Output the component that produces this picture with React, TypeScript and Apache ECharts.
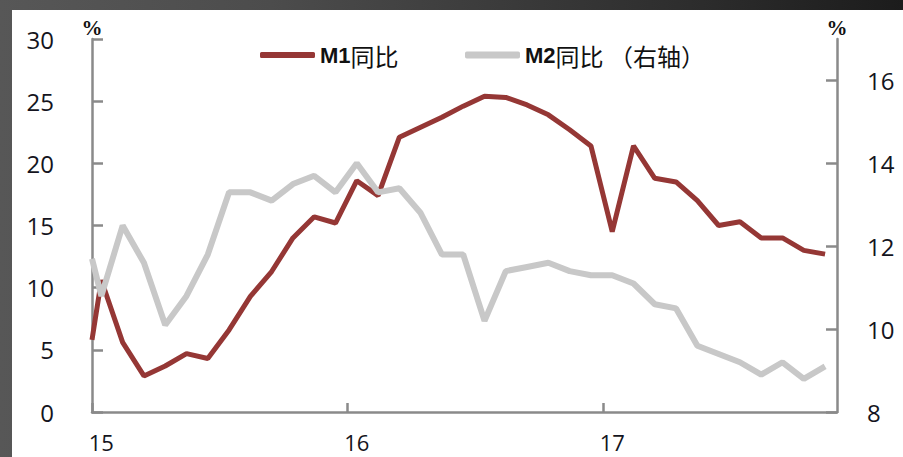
import { useEffect, useRef } from "react";
import * as echarts from "echarts";

// Monthly data, Jan 2015 – Nov 2017
const months = [
  "2015-01", "2015-02", "2015-03", "2015-04", "2015-05", "2015-06",
  "2015-07", "2015-08", "2015-09", "2015-10", "2015-11", "2015-12",
  "2016-01", "2016-02", "2016-03", "2016-04", "2016-05", "2016-06",
  "2016-07", "2016-08", "2016-09", "2016-10", "2016-11", "2016-12",
  "2017-01", "2017-02", "2017-03", "2017-04", "2017-05", "2017-06",
  "2017-07", "2017-08", "2017-09", "2017-10", "2017-11",
];
const m1 = [
  10.6, 5.6, 2.9, 3.7, 4.7, 4.3, 6.6, 9.3, 11.3, 14.0, 15.7, 15.2,
  18.6, 17.4, 22.1, 22.9, 23.7, 24.6, 25.4, 25.3, 24.7, 23.9, 22.7, 21.4,
  14.5, 21.4, 18.8, 18.5, 17.0, 15.0, 15.3, 14.0, 14.0, 13.0, 12.7,
];
const m2 = [
  10.8, 12.5, 11.6, 10.1, 10.8, 11.8, 13.3, 13.3, 13.1, 13.5, 13.7, 13.3,
  14.0, 13.3, 13.4, 12.8, 11.8, 11.8, 10.2, 11.4, 11.5, 11.6, 11.4, 11.3,
  11.3, 11.1, 10.6, 10.5, 9.6, 9.4, 9.2, 8.9, 9.2, 8.8, 9.1,
];
// values where both lines enter the plot at its left edge
const m1Start = 5.8;
const m2Start = 11.7;
const yearLabels = ["15", "16", "17"];
const leftTicks = [0, 5, 10, 15, 20, 25, 30];
const rightTicks = [8, 10, 12, 14, 16];

const M1_NAME = "M1同比";
const M2_NAME = "M2同比 （右轴）";

export default function App() {
  const ref = useRef<HTMLDivElement>(null);

  useEffect(() => {
    if (!ref.current) return;
    const chart = echarts.init(ref.current, undefined, { renderer: "svg" });

    const X_MIN = -0.44;
    const X_MAX = months.length - 1 + 0.56;
    const yearTickValues = yearLabels.map((_, i) => i * 12 + X_MIN);
    const yearLabelValues = yearLabels.map((_, i) => i * 12);

    const axisColor = "#8a8a8a";
    const labelStyle = {
      fontFamily: "Open Sans",
      fontSize: 24,
      color: "#141420",
    };
    const nameStyle = {
      fontFamily: "Liberation Serif",
      fontWeight: "bold" as const,
      fontSize: 21,
      color: "#111",
    };
    const legendText = {
      fontFamily: "Noto Sans CJK SC",
      fontSize: 24,
      color: "#111",
      lineHeight: 28,
      rich: {
        b: {
          fontFamily: "Liberation Sans Narrow, Liberation Sans",
          fontWeight: "bold",
          fontSize: 22,
          color: "#111",
          lineHeight: 28,
        },
        n: {
          fontFamily: "Noto Sans CJK SC",
          fontSize: 24,
          color: "#111",
          lineHeight: 28,
        },
      },
    };
    const legendFormatter = (name: string) =>
      `{b|${name.slice(0, 2)}}{n|${name.slice(2)}}`;

    const m1Data = [[X_MIN, m1Start], ...m1.map((v, i) => [i, v])];
    const m2Data = [[X_MIN, m2Start], ...m2.map((v, i) => [i, v])];

    chart.setOption({
      animation: false,
      backgroundColor: "transparent",
      grid: {
        left: 92,
        right: 66,
        top: 39,
        bottom: 45,
        containLabel: false,
        outerBoundsMode: "none",
      },
      legend: [
        {
          data: [M1_NAME],
          left: 255,
          top: 36,
          icon: "roundRect",
          itemWidth: 55,
          itemHeight: 6,
          formatter: legendFormatter,
          textStyle: legendText,
        },
        {
          data: [M2_NAME],
          left: 460,
          top: 36,
          icon: "roundRect",
          itemWidth: 55,
          itemHeight: 7,
          formatter: legendFormatter,
          textStyle: legendText,
        },
      ],
      xAxis: {
        type: "value",
        min: X_MIN,
        max: X_MAX,
        splitLine: { show: false },
        axisLine: {
          show: true,
          onZero: false,
          lineStyle: { color: axisColor, width: 2.5 },
        },
        axisTick: {
          show: true,
          inside: true,
          length: 9,
          customValues: yearTickValues,
          lineStyle: { color: axisColor, width: 2.5 },
        },
        axisLabel: {
          ...labelStyle,
          fontSize: 22,
          lineHeight: 22,
          margin: 19,
          customValues: yearLabelValues,
          formatter: (v: number) => yearLabels[Math.round(v / 12)] ?? "",
        },
      },
      yAxis: [
        {
          type: "value",
          position: "left",
          min: 0,
          max: 30,
          interval: 5,
          name: "%",
          nameLocation: "end",
          nameGap: 1,
          nameTextStyle: nameStyle,
          splitLine: { show: false },
          axisLine: {
            show: true,
            onZero: false,
            lineStyle: { color: axisColor, width: 2.5 },
          },
          axisTick: {
            show: true,
            inside: true,
            length: 11,
            customValues: leftTicks,
            lineStyle: { color: axisColor, width: 2.5 },
          },
          axisLabel: { ...labelStyle, margin: 38, customValues: leftTicks },
        },
        {
          type: "value",
          position: "right",
          min: 8,
          max: 17,
          interval: 1,
          name: "%",
          nameLocation: "end",
          nameGap: 1,
          nameTextStyle: nameStyle,
          splitLine: { show: false },
          axisLine: {
            show: true,
            onZero: false,
            lineStyle: { color: axisColor, width: 2.5 },
          },
          axisTick: {
            show: true,
            inside: true,
            length: 11,
            customValues: rightTicks,
            lineStyle: { color: axisColor, width: 2.5 },
          },
          axisLabel: { ...labelStyle, margin: 30, customValues: rightTicks },
        },
      ],
      series: [
        {
          name: M1_NAME,
          type: "line",
          yAxisIndex: 0,
          data: m1Data,
          symbol: "none",
          clip: true,
          color: "#953735",
          lineStyle: { color: "#953735", width: 5 },
        },
        {
          name: M2_NAME,
          type: "line",
          yAxisIndex: 1,
          data: m2Data,
          symbol: "none",
          clip: true,
          color: "#c8c8c8",
          lineStyle: { color: "#c8c8c8", width: 6 },
        },
      ],
    });

    return () => chart.dispose();
  }, []);

  return (
    <div
      style={{
        position: "fixed",
        left: 0,
        top: 0,
        width: 903,
        height: 457,
        background:
          "linear-gradient(to right, #575757 0%, #4c4c4c 30%, #2e2e2e 75%, #1c1c1c 100%)",
        overflow: "hidden",
      }}
    >
      <div
        style={{
          position: "absolute",
          left: 12,
          top: 10,
          right: 0,
          bottom: 0,
          background: "#ffffff",
        }}
      />
      <div
        ref={ref}
        style={{ position: "absolute", left: 0, top: 0, width: 903, height: 457 }}
      />
    </div>
  );
}
